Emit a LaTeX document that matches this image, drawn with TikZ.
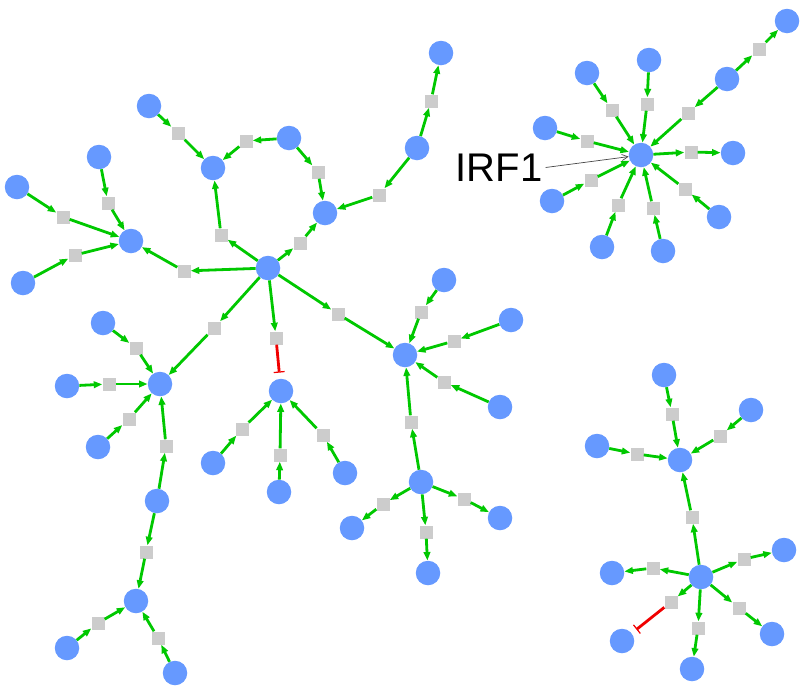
\documentclass[tikz,border=0pt]{standalone}
\usepackage{fontspec}
\setmainfont{Liberation Sans}
\usetikzlibrary{arrows.meta}
\definecolor{molblue}{RGB}{102,153,255}
\definecolor{rxngray}{RGB}{204,204,204}
\definecolor{actgreen}{RGB}{0,200,0}
\definecolor{inhred}{RGB}{240,0,0}
\definecolor{leadgray}{RGB}{70,70,70}
\tikzset{
  mol/.style={circle, fill=molblue, minimum size=24.5pt, inner sep=0pt},
  rxn/.style={rectangle, fill=rxngray, minimum size=13pt, inner sep=0pt},
  act/.style={draw=actgreen, line width=2.8pt, -{Triangle[length=8.5pt,width=6.5pt]}},
  inh/.style={draw=inhred, line width=2.8pt, -{Bar[width=11pt,line width=1.2pt]}, shorten >=6pt},
  leader/.style={draw=leadgray, line width=0.7pt, -{Straight Barb[length=6pt,width=6pt,line width=0.7pt]}},
}
\begin{document}
\begin{tikzpicture}[x=1pt,y=-1pt]
\useasboundingbox (0,0) rectangle (803,686);

% ---------- large network: molecules ----------
\node[mol] (H1)  at (268,268) {};
\node[mol] (Na)  at (213,168) {};
\node[mol] (Nb)  at (149,106) {};
\node[mol] (Nc)  at (289,138) {};
\node[mol] (Nd)  at (325,213) {};
\node[mol] (Nf)  at (417,148) {};
\node[mol] (Ntop) at (441,53) {};
\node[mol] (Ng)  at (131,241) {};
\node[mol] (Nh)  at (99,157) {};
\node[mol] (Ni)  at (17,187) {};
\node[mol] (Nj)  at (23,283) {};
\node[mol] (Nk)  at (160,384) {};
\node[mol] (Nl)  at (103,323) {};
\node[mol] (Nm)  at (67,386) {};
\node[mol] (Nn)  at (98,447) {};
\node[mol] (No)  at (157,501) {};
\node[mol] (Np)  at (136,601) {};
\node[mol] (Nq)  at (67,648) {};
\node[mol] (Nr)  at (175,673) {};
\node[mol] (Ns)  at (281,391) {};
\node[mol] (Nt)  at (213,463) {};
\node[mol] (Nu)  at (279,492) {};
\node[mol] (Nv)  at (345,473) {};
\node[mol] (Nw)  at (405,355) {};
\node[mol] (Nx)  at (444,280) {};
\node[mol] (Ny)  at (511,320) {};
\node[mol] (Nz)  at (500,407) {};
\node[mol] (Naa) at (421,482) {};
\node[mol] (Nab) at (352,528) {};
\node[mol] (Nac) at (428,573) {};
\node[mol] (Nad) at (500,518) {};

% ---------- large network: reactions ----------
\node[rxn] (r1)  at (221,235) {};
\node[rxn] (r2)  at (178,133) {};
\node[rxn] (r3)  at (246,141) {};
\node[rxn] (r4)  at (318,172) {};
\node[rxn] (r5)  at (300,243) {};
\node[rxn] (r6)  at (379,195) {};
\node[rxn] (r7)  at (431,101) {};
\node[rxn] (r8)  at (184,271) {};
\node[rxn] (r9)  at (108,203) {};
\node[rxn] (r10) at (63,217) {};
\node[rxn] (r11) at (75,255) {};
\node[rxn] (r12) at (214,328) {};
\node[rxn] (r13) at (136,348) {};
\node[rxn] (r14) at (109,384) {};
\node[rxn] (r15) at (129,419) {};
\node[rxn] (r16) at (166,446) {};
\node[rxn] (r17) at (146,552) {};
\node[rxn] (r18) at (98,623) {};
\node[rxn] (r19) at (158,638) {};
\node[rxn] (r20) at (276,338) {};
\node[rxn] (r21) at (242,429) {};
\node[rxn] (r22) at (280,455) {};
\node[rxn] (r23) at (323,435) {};
\node[rxn] (r24) at (338,314) {};
\node[rxn] (r25) at (421,312) {};
\node[rxn] (r26) at (454,341) {};
\node[rxn] (r27) at (444,382) {};
\node[rxn] (r28) at (411,422) {};
\node[rxn] (r29) at (383,504) {};
\node[rxn] (r30) at (426,532) {};
\node[rxn] (r31) at (464,499) {};

% ---------- large network: edges ----------
\draw[act] (H1) -- (r1);  \draw[act] (r1) -- (Na);
\draw[act] (Nb) -- (r2);  \draw[act] (r2) -- (Na);
\draw[act] (Nc) -- (r3);  \draw[act] (r3) -- (Na);
\draw[act] (Nc) -- (r4);  \draw[act] (r4) -- (Nd);
\draw[act] (H1) -- (r5);  \draw[act] (r5) -- (Nd);
\draw[act] (Nf) -- (r6);  \draw[act] (r6) -- (Nd);
\draw[act] (Nf) -- (r7);  \draw[act] (r7) -- (Ntop);
\draw[act] (H1) -- (r8);  \draw[act] (r8) -- (Ng);
\draw[act] (Nh) -- (r9);  \draw[act] (r9) -- (Ng);
\draw[act] (Ni) -- (r10); \draw[act] (r10) -- (Ng);
\draw[act] (Nj) -- (r11); \draw[act] (r11) -- (Ng);
\draw[act] (H1) -- (r12); \draw[act] (r12) -- (Nk);
\draw[act] (Nl) -- (r13); \draw[act] (r13) -- (Nk);
\draw[act] (Nm) -- (r14); \draw[act] (r14) -- (Nk);
\draw[act] (Nn) -- (r15); \draw[act] (r15) -- (Nk);
\draw[act] (No) -- (r16); \draw[act] (r16) -- (Nk);
\draw[act] (No) -- (r17); \draw[act] (r17) -- (Np);
\draw[act] (Nq) -- (r18); \draw[act] (r18) -- (Np);
\draw[act] (Nr) -- (r19); \draw[act] (r19) -- (Np);
\draw[act] (H1) -- (r20); \draw[inh] (r20) -- (Ns);
\draw[act] (Nt) -- (r21); \draw[act] (r21) -- (Ns);
\draw[act] (Nu) -- (r22); \draw[act] (r22) -- (Ns);
\draw[act] (Nv) -- (r23); \draw[act] (r23) -- (Ns);
\draw[act] (H1) -- (r24); \draw[act] (r24) -- (Nw);
\draw[act] (Nx) -- (r25); \draw[act] (r25) -- (Nw);
\draw[act] (Ny) -- (r26); \draw[act] (r26) -- (Nw);
\draw[act] (Nz) -- (r27); \draw[act] (r27) -- (Nw);
\draw[act] (Naa) -- (r28); \draw[act] (r28) -- (Nw);
\draw[act] (Naa) -- (r29); \draw[act] (r29) -- (Nab);
\draw[act] (Naa) -- (r30); \draw[act] (r30) -- (Nac);
\draw[act] (Naa) -- (r31); \draw[act] (r31) -- (Nad);

% ---------- IRF1 star ----------
\node[mol] (IRF1) at (641,155) {};
\node[mol] (A1)  at (587,73) {};
\node[mol] (A2)  at (649,60) {};
\node[mol] (A3)  at (727,79) {};
\node[mol] (A4)  at (787,21) {};
\node[mol] (A5)  at (545,128) {};
\node[mol] (A6)  at (733,153) {};
\node[mol] (A7)  at (552,201) {};
\node[mol] (A8)  at (602,247) {};
\node[mol] (A9)  at (663,251) {};
\node[mol] (A10) at (719,217) {};
\node[rxn] (s1)  at (612,110) {};
\node[rxn] (s2)  at (647,104) {};
\node[rxn] (s3)  at (688,113) {};
\node[rxn] (s4)  at (759,49) {};
\node[rxn] (s5)  at (587,141) {};
\node[rxn] (s6)  at (691,152) {};
\node[rxn] (s7)  at (591,180) {};
\node[rxn] (s8)  at (618,205) {};
\node[rxn] (s9)  at (653,208) {};
\node[rxn] (s10) at (685,189) {};
\draw[act] (A1) -- (s1);  \draw[act] (s1) -- (IRF1);
\draw[act] (A2) -- (s2);  \draw[act] (s2) -- (IRF1);
\draw[act] (A3) -- (s3);  \draw[act] (s3) -- (IRF1);
\draw[act] (A3) -- (s4);  \draw[act] (s4) -- (A4);
\draw[act] (A5) -- (s5);  \draw[act] (s5) -- (IRF1);
\draw[act] (IRF1) -- (s6); \draw[act] (s6) -- (A6);
\draw[act] (A7) -- (s7);  \draw[act] (s7) -- (IRF1);
\draw[act] (A8) -- (s8);  \draw[act] (s8) -- (IRF1);
\draw[act] (A9) -- (s9);  \draw[act] (s9) -- (IRF1);
\draw[act] (A10) -- (s10); \draw[act] (s10) -- (IRF1);

\node[inner sep=3pt, font=\fontsize{40}{44}\selectfont] (lbl) at (499,167.5) {IRF1};
\draw[leader] (lbl.east) -- (IRF1);

% ---------- two-hub network ----------
\node[mol] (B1) at (680,460) {};
\node[mol] (Bt) at (664,375) {};
\node[mol] (Br) at (751,410) {};
\node[mol] (Bl) at (597,446) {};
\node[mol] (B2) at (701,577) {};
\node[mol] (C1) at (612,573) {};
\node[mol] (C2) at (784,550) {};
\node[mol] (C3) at (622,641) {};
\node[mol] (C4) at (692,669) {};
\node[mol] (C5) at (772,634) {};
\node[rxn] (t1) at (672,414) {};
\node[rxn] (t2) at (720,436) {};
\node[rxn] (t3) at (637,454) {};
\node[rxn] (t4) at (692,517) {};
\node[rxn] (t5) at (653,568) {};
\node[rxn] (t6) at (744,559) {};
\node[rxn] (t7) at (671,602) {};
\node[rxn] (t8) at (698,628) {};
\node[rxn] (t9) at (739,608) {};
\draw[act] (Bt) -- (t1); \draw[act] (t1) -- (B1);
\draw[act] (Br) -- (t2); \draw[act] (t2) -- (B1);
\draw[act] (Bl) -- (t3); \draw[act] (t3) -- (B1);
\draw[act] (B2) -- (t4); \draw[act] (t4) -- (B1);
\draw[act] (B2) -- (t5); \draw[act] (t5) -- (C1);
\draw[act] (B2) -- (t6); \draw[act] (t6) -- (C2);
\draw[act] (B2) -- (t7); \draw[inh] (t7) -- (C3);
\draw[act] (B2) -- (t8); \draw[act] (t8) -- (C4);
\draw[act] (B2) -- (t9); \draw[act] (t9) -- (C5);
\end{tikzpicture}
\end{document}
